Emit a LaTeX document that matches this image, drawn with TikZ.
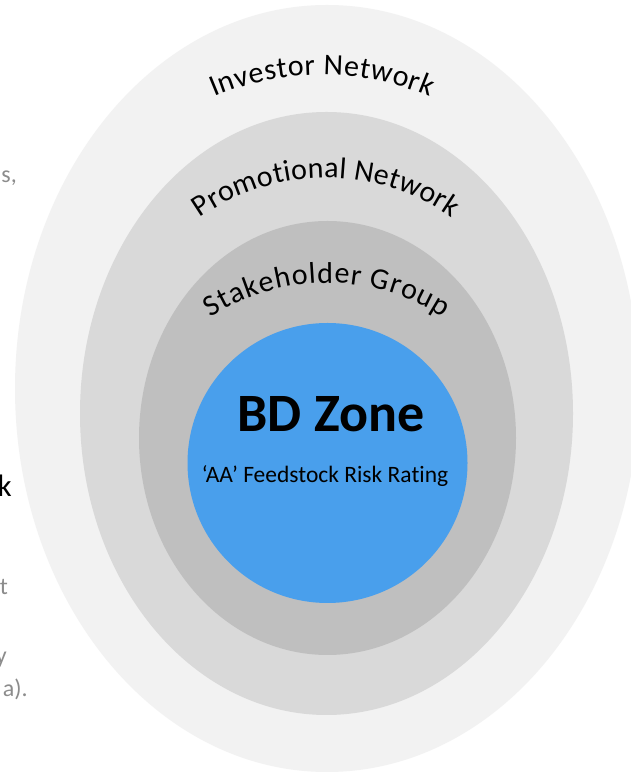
\documentclass[tikz,border=0pt]{standalone}
\usepackage{fontspec}
\setmainfont[Ligatures={NoCommon}]{Carlito}
\usetikzlibrary{decorations.text}
\definecolor{ringA}{HTML}{F2F2F2}
\definecolor{ringB}{HTML}{D9D9D9}
\definecolor{ringC}{HTML}{BFBFBF}
\definecolor{zoneblue}{RGB}{73,159,236}
\definecolor{sidegray}{HTML}{8C8C8C}
\begin{document}
\begin{tikzpicture}[x=1pt,y=1pt,
  ringlabel/.style={decorate, decoration={text along path, text align={fit to path}, text color=black}},
  sidetext/.style={inner sep=0pt, anchor=base east, text=sidegray, font=\fontsize{24}{24}\selectfont}]
\useasboundingbox (0,0) rectangle (631,776);
\clip (0,0) rectangle (631,776);
\fill[white] (0,0) rectangle (631,776);
% rings
\fill[ringA] (327,387.5) ellipse [x radius=312, y radius=383.5];
\fill[ringB] (326.5,362.5) ellipse [x radius=246.5, y radius=301.5];
\fill[ringC] (327.5,338) ellipse [x radius=188.5, y radius=217];
\fill[zoneblue] (327.5,313) circle [radius=140];
% curved labels
\path[ringlabel, decoration={text={|\fontsize{30}{32}\selectfont|Investor Network}}]
  ([shift={(113:276)}]322,425) arc[start angle=113, end angle=67, radius=276];
\path[ringlabel, decoration={text={|\fontsize{30}{32}\selectfont|Promotional Network}}]
  ([shift={(125:220)}]326,378) arc[start angle=125, end angle=55, radius=220];
\path[ringlabel, decoration={text={|\fontsize{30}{32}\selectfont|Stakeholder Group}}]
  ([shift={(123:213)}]327,280) arc[start angle=123, end angle=57, radius=213];
% centre texts
\node[font=\bfseries\fontsize{54}{54}\selectfont, anchor=base, inner sep=0pt] (zone) at (331,344) {BD Zone};
\node[font=\fontsize{23.5}{24}\selectfont, anchor=base, inner sep=0pt] (rating) at (325,293) {‘AA’ Feedstock Risk Rating};
% clipped side text fragments
\node[sidetext] (fragS) at (17,593) {s,};
\node[sidetext, text=black, font=\fontsize{31}{31}\selectfont] (fragK) at (12,279) {k};
\node[sidetext] (fragT) at (8,181) {t};
\node[sidetext] (fragY) at (7,112) {y};
\node[sidetext] (fragA) at (28,79) {a).};
\end{tikzpicture}
\end{document}
